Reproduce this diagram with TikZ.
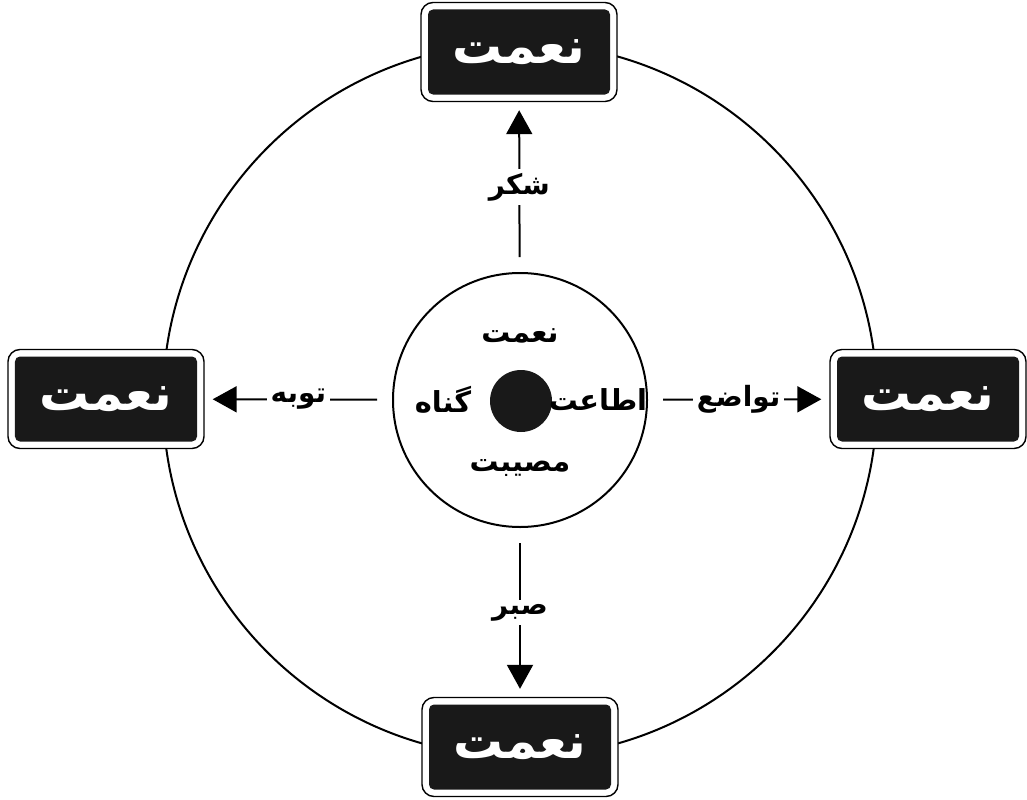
\documentclass[tikz,border=0pt]{standalone}
\usepackage{fontspec}
\newfontfamily\ur[Script=Arabic]{DejaVu Sans}
\TeXXeTstate=1
\usetikzlibrary{arrows.meta}
\tikzset{
 outerbox/.style={draw, fill=white, rounded corners=12bp, minimum width=196bp, minimum height=99bp, line width=1.4bp, inner sep=0pt},
 innerbox/.style={fill=black!90, rounded corners=5bp, minimum width=182bp, minimum height=85bp, text=white, font=\ur\bfseries\fontsize{50}{54}\selectfont, inner sep=0pt},
 conn/.style={line width=2bp, -{Triangle[length=24bp,width=26bp]}, shorten <=15bp, shorten >=8bp},
 lbl/.style={fill=white, font=\ur\bfseries\fontsize{28}{32}\selectfont, inner sep=4bp},
 ctext/.style={font=\ur\bfseries\fontsize{29}{34}\selectfont},
 ring/.style={circle, draw, line width=2bp, inner sep=0pt},
}
\newcommand{\rl}[1]{\beginR #1\endR}
\begin{document}
\begin{tikzpicture}[x=1bp,y=-1bp]
\useasboundingbox (0,0) rectangle (1027,800);
\node[ring, minimum size=714bp] (big) at (520,400) {};
\node[ring, fill=white, minimum size=254bp] (in) at (520,400) {};
\node[circle, fill=black!90, minimum size=62bp, inner sep=0pt] (dot) at (521,401) {};
\node[ctext] (c1) at (520,336) {\rl{نعمت}};
\node[ctext] (c2) at (443,400) {\rl{گناه}};
\node[ctext] (c3) at (598,400) {\rl{اطاعت}};
\node[ctext] (c4) at (520,468) {\rl{مصیبت}};
\node[outerbox] (tb) at (519,52) {};
\node[innerbox] (tbi) at (tb) {\rl{نعمت}};
\node[outerbox] (lb) at (106,399) {};
\node[innerbox] (lbi) at (lb) {\rl{نعمت}};
\node[outerbox] (rb) at (928,399) {};
\node[innerbox] (rbi) at (rb) {\rl{نعمت}};
\node[outerbox] (bb) at (520,747) {};
\node[innerbox] (bbi) at (bb) {\rl{نعمت}};
\draw[conn] (in) -- node[lbl] (l1) {\rl{شکر}} (tb);
\draw[conn] (in) -- node[lbl] (l2) {\rl{توبه}} (lb);
\draw[conn] (in) -- node[lbl] (l3) {\rl{تواضع}} (rb);
\draw[conn] (in) -- node[lbl] (l4) {\rl{صبر}} (bb);
\end{tikzpicture}
\end{document}
